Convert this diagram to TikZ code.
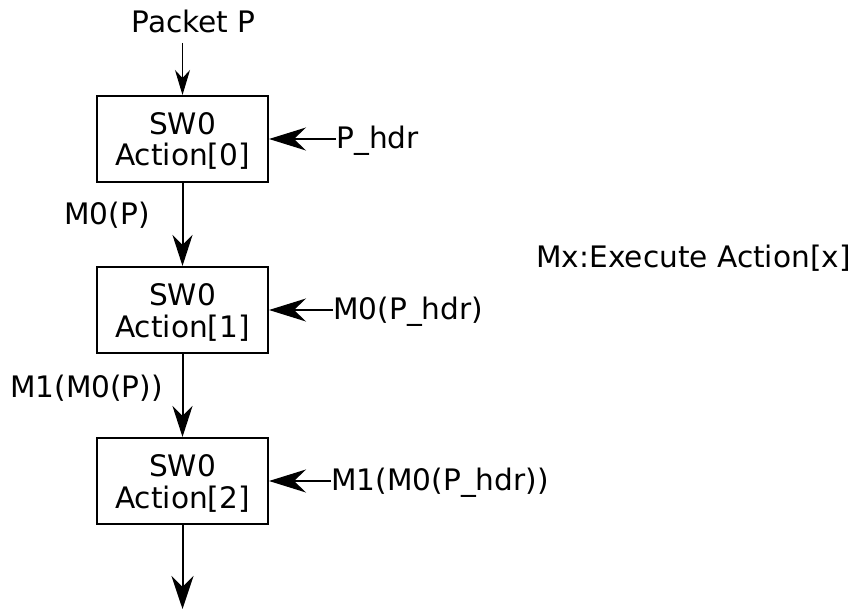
\documentclass[tikz,border=0pt]{standalone}
\usepackage{fontspec}
\setmainfont{DejaVu Sans}
\usetikzlibrary{arrows.meta}
\begin{document}
\begin{tikzpicture}[x=0.5pt,y=-0.5pt,
  font=\fontsize{14.8}{15.75}\selectfont,
  actionbox/.style={draw,line width=1pt,minimum width=85.5pt,minimum height=43pt,
    align=center,inner sep=0pt,text height=27pt,text depth=0pt},
  lbl/.style={inner sep=0pt,anchor=base},
  inlbl/.style={inner sep=0pt,anchor=base west},
  feedarrow/.style={line width=0.5pt,-{Stealth[length=12.5pt,width=7.5pt,inset=4pt]}},
  flowarrow/.style={line width=1pt,-{Stealth[length=15.5pt,width=10pt,inset=5pt]}},
  outarrow/.style={line width=1pt,-{Stealth[length=16.5pt,width=11pt,inset=5.5pt]}},
  hdrarrow/.style={line width=0.6pt,-{Stealth[length=18.5pt,width=11.5pt,inset=6pt]}}]
\useasboundingbox (0,0) rectangle (856,609);

% pipeline stages
\node[actionbox] (a0) at (182.5,139) {SW0\\Action[0]};
\node[actionbox] (a1) at (182.5,310) {SW0\\Action[1]};
\node[actionbox] (a2) at (182.5,481) {SW0\\Action[2]};

% packet entering and leaving
\node[lbl] (pkt) at (193.5,33) {Packet P};
\coordinate (pin) at (182.5,43);
\coordinate (pout) at (182.5,609);
\draw[feedarrow] (pin) -- (a0.north);
\draw[flowarrow] (a0.south) -- (a1.north);
\draw[flowarrow] (a1.south) -- (a2.north);
\draw[outarrow] (a2.south) -- (pout);

% packet labels between stages
\node[lbl] (m0p) at (107,225) {M0(P)};
\node[lbl] (m1p) at (86.5,397) {M1(M0(P))};

% header inputs
\node[inlbl] (h0) at (336,149) {P\_hdr};
\node[inlbl] (h1) at (333,319) {M0(P\_hdr)};
\node[inlbl] (h2) at (331,490) {M1(M0(P\_hdr))};
\draw[hdrarrow] (h0.west |- a0.east) -- (a0.east);
\draw[hdrarrow] (h1.west |- a1.east) -- (a1.east);
\draw[hdrarrow] (h2.west |- a2.east) -- (a2.east);

% legend
\node[lbl] (legend) at (693.5,267) {Mx:Execute Action[x]};
\end{tikzpicture}
\end{document}
